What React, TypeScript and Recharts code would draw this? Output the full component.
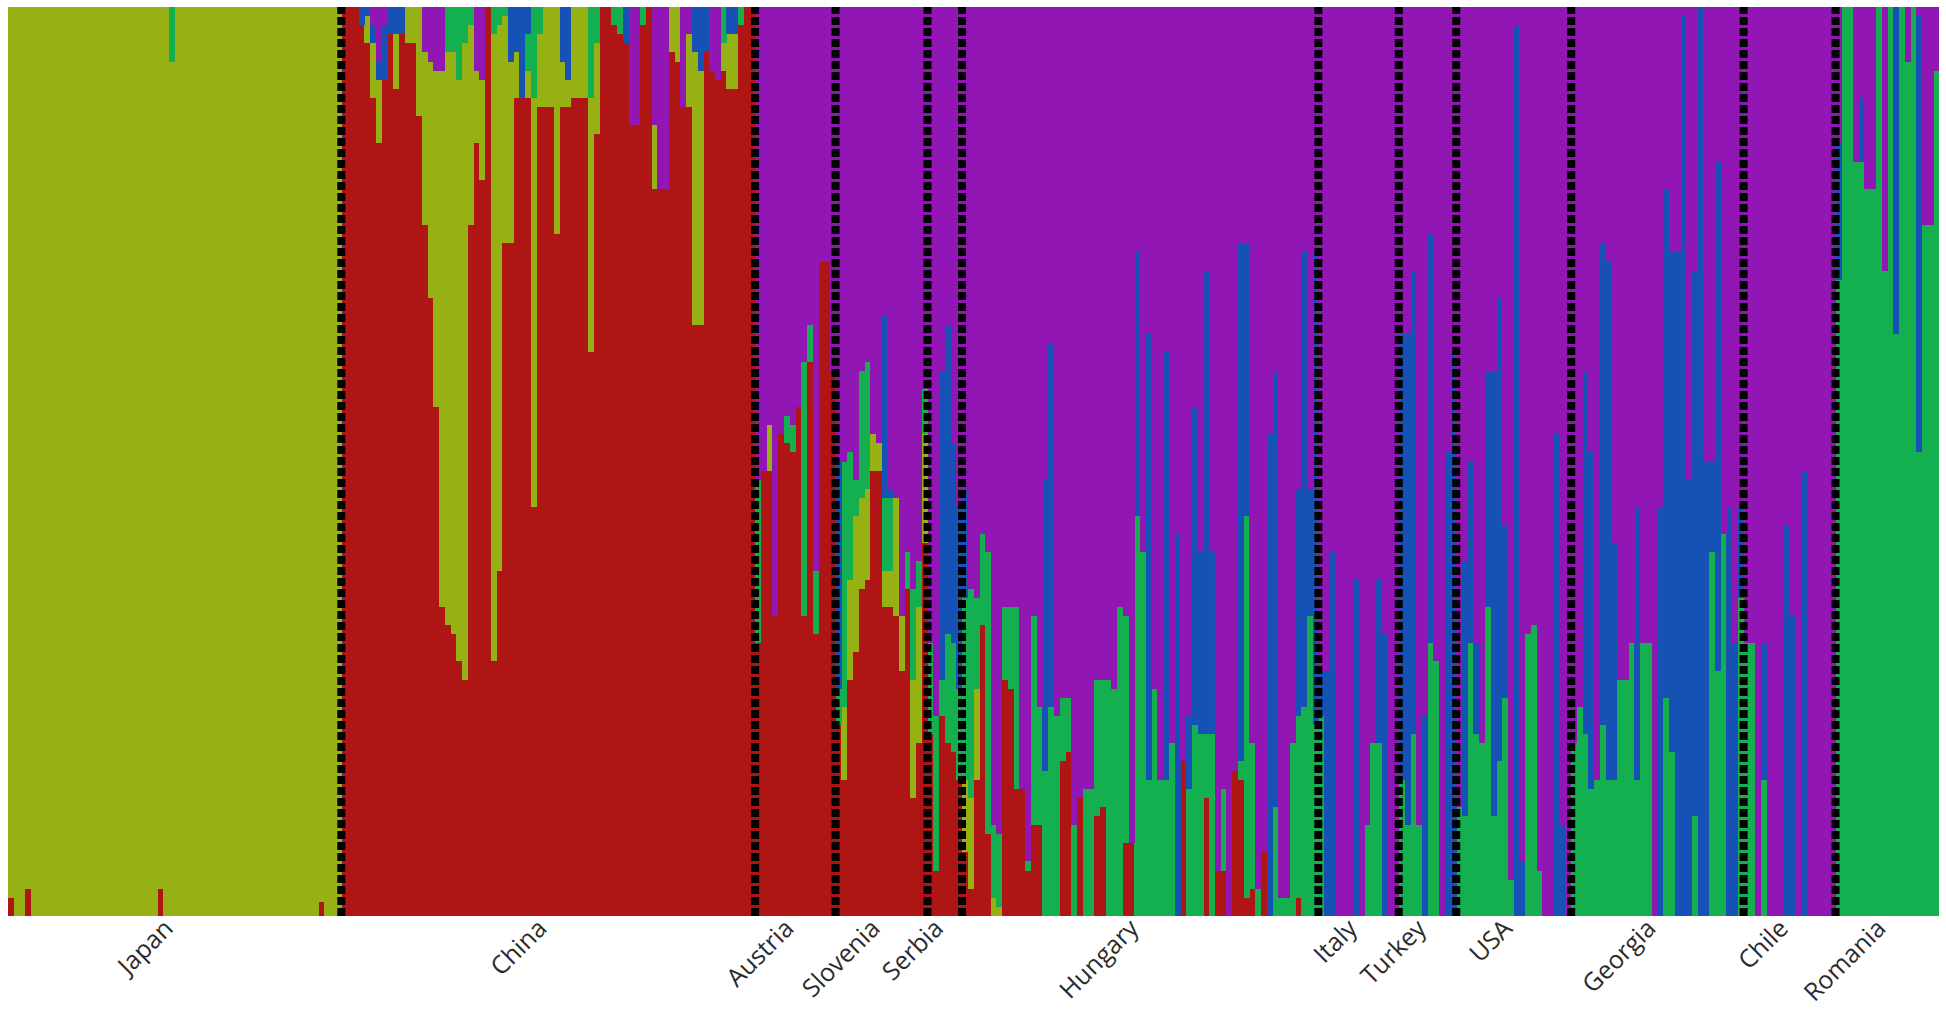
import React from 'react';
import { BarChart, Bar, XAxis, YAxis, ReferenceLine } from 'recharts';

// ancestry components, stacked bottom -> top
const components = ['red', 'yg', 'green', 'blue', 'purple'];
const colors: Record<string, string> = {
  red: '#b01515',
  yg: '#95b114',
  green: '#14b04f',
  blue: '#1652b5',
  purple: '#9116b3',
};

const populations = ['Japan', 'China', 'Austria', 'Slovenia', 'Serbia', 'Hungary', 'Italy', 'Turkey', 'USA', 'Georgia', 'Chile', 'Romania'];

// each individual: [red, yg, green, blue, purple] (%)
const japan = [
  [2,98,0,0,0],[0,100,0,0,0],[0,100,0,0,0],[3,97,0,0,0],[0,100,0,0,0],[0,100,0,0,0],[0,100,0,0,0],[0,100,0,0,0],[0,100,0,0,0],[0,100,0,0,0],
  [0,100,0,0,0],[0,100,0,0,0],[0,100,0,0,0],[0,100,0,0,0],[0,100,0,0,0],[0,100,0,0,0],[0,100,0,0,0],[0,100,0,0,0],[0,100,0,0,0],[0,100,0,0,0],
  [0,100,0,0,0],[0,100,0,0,0],[0,100,0,0,0],[0,100,0,0,0],[0,100,0,0,0],[0,100,0,0,0],[3,97,0,0,0],[0,100,0,0,0],[0,94,6,0,0],[0,100,0,0,0],
  [0,100,0,0,0],[0,100,0,0,0],[0,100,0,0,0],[0,100,0,0,0],[0,100,0,0,0],[0,100,0,0,0],[0,100,0,0,0],[0,100,0,0,0],[0,100,0,0,0],[0,100,0,0,0],
  [0,100,0,0,0],[0,100,0,0,0],[0,100,0,0,0],[0,100,0,0,0],[0,100,0,0,0],[0,100,0,0,0],[0,100,0,0,0],[0,100,0,0,0],[0,100,0,0,0],[0,100,0,0,0],
  [0,100,0,0,0],[0,100,0,0,0],[0,100,0,0,0],[0,100,0,0,0],[1.5,98.5,0,0,0],[0,100,0,0,0],[0,100,0,0,0],[0,100,0,0,0],
];

const china = [
  [100,0,0,0,0],[100,0,0,0,0],[100,0,0,0,0],[98,0,0,2,0],[96,3,0,1,0],[90,6,0,2,2],[85,7,0,2,6],[92,0,0,6,2],[97,0,0,3,0],[91,6,0,3,0],
  [97,0,0,3,0],[96,4,0,0,0],[96,4,0,0,0],[88,12,0,0,0],[76,19,0,0,5],[68,26,0,0,6],[56,37,0,0,7],[34,59,0,0,7],[32,63,5,0,0],[31,64,5,0,0],
  [28,64,8,0,0],[26,70,4,0,0],[76,22,2,0,0],[85,8,0,0,7],[81,11,0,0,8],[100,0,0,0,0],[28,69,3,0,0],[38,60,2,0,0],[74,25,1,0,0],[74,20,0,6,0],
  [90,5,0,5,0],[90,0,0,10,0],[90,3,4,3,0],[45,45,10,0,0],[89,8,3,0,0],[89,11,0,0,0],[89,11,0,0,0],[75,25,0,0,0],[89,5,0,6,0],[89,3,0,8,0],
  [90,10,0,0,0],[90,10,0,0,0],[90,10,0,0,0],[62,28,10,0,0],[86,10,4,0,0],[100,0,0,0,0],[100,0,0,0,0],[98,0,2,0,0],[97,0,3,0,0],[96,0,0,4,0],
  [87,0,0,0,13],[87,0,0,0,13],[98,0,2,0,0],[100,0,0,0,0],[80,7,0,0,13],[80,0,0,0,20],[80,0,0,0,20],[95,5,0,0,0],[94,6,0,0,0],[89,0,0,0,11],
  [89,8,0,0,3],[65,30,0,5,0],[65,28,0,7,0],[95,0,0,5,0],[93,0,0,0,7],[92,0,0,0,8],[93,3,4,0,0],[91,6,0,3,0],[91,6,0,3,0],[98,0,2,0,0],
  [100,0,0,0,0],[100,0,0,0,0],
];

const austria = [
  [30,0,18,0,52],[49,0,0,0,51],[49,5,0,0,46],[33,0,0,0,67],[53,0,0,0,47],[52,0,3,0,45],[51,0,3,0,46],
  [56,0,0,0,44],[33,0,28,0,39],[61,0,4,0,35],[31,0,7,0,62],[72,0,0,0,28],[72,0,0,0,28],[60,0,0,0,40],
];

const slovenia = [
  [21,0,4,25,50],[15,8,27,0,50],[26,11,14,0,49],[29,15,4,0,52],[36,10,14,0,40],[37,10,14,0,39],[49,4,0,0,47],[49,3,0,0,48],
  [34,4,8,20,34],[34,4,8,1,53],[33,13,0,0,54],[27,6,0,0,67],[36,0,4,0,60],[13,13,10,0,64],[19,15,5,0,61],[41,12,5,0,42],
];

const serbia = [
  [20,0,10,0,70],[5,0,17,0,78],[22,0,4,34,40],[19,0,12,34,35],[18,0,12,22,48],[15,0,10,20,55],
];

const hungary = [
  [7,8,20,12,53],[3,10,23,0,64],[15,10,10,0,65],[32,0,10,0,58],[9,0,31,0,60],[0,2,8,0,90],[0,1,8,0,91],[26,0,8,0,66],[25,0,9,0,66],[14,0,20,0,66],
  [14,0,0,0,86],[5,0,1,0,94],[10,0,23,0,67],[10,0,13,0,77],[0,0,16,32,52],[0,0,23,40,37],[0,0,22,0,78],[17,0,7,0,76],[18,0,6,0,76],[0,0,10,0,90],
  [13,0,0,0,87],[0,0,14,0,86],[0,0,14,0,86],[11,0,15,0,74],[12,0,14,0,74],[0,0,26,0,74],[0,0,25,0,75],[0,0,34,0,66],[8,0,25,0,67],[8,0,0,0,92],
  [0,0,44,29,27],[0,0,40,0,60],[0,0,15,49,36],[0,0,25,0,75],[0,0,15,0,85],[0,0,15,47,38],[0,0,19,0,81],[0,0,0,42,58],[17,0,0,0,83],[0,0,14,8,78],
  [0,0,21,35,44],[0,0,20,20,60],[13,0,7,51,29],[0,0,20,20,60],[5,0,0,0,95],[5,0,9,0,86],[0,0,0,0,100],[16,0,0,0,84],[15,0,2,57,26],[2,0,42,30,26],
  [3,0,16,0,81],[0,0,3,0,97],[7,0,0,0,93],[0,0,0,53,47],[0,0,12,48,40],[0,0,2,0,98],[0,0,2,0,98],[0,0,19,0,81],[2,0,20,25,53],[0,0,23,50,27],
  [0,0,33,14,53],[0,0,21,52,27],
];

const italy = [
  [0,0,22,5,73],[0,0,0,27,73],[0,0,0,40,60],[0,0,0,0,100],[0,0,0,0,100],[0,0,0,0,100],[0,0,0,37,63],
  [0,0,0,0,100],[0,0,10,0,90],[0,0,19,0,81],[0,0,19,18,63],[0,0,0,31,69],[0,0,0,0,100],[0,0,0,0,100],
];

const turkey = [
  [0,0,15,49,36],[0,0,10,54,36],[0,0,20,51,29],[0,0,10,0,90],[0,0,0,22,78],
  [0,0,30,45,25],[0,0,28,0,72],[0,0,0,0,100],[0,0,0,51,49],[0,0,0,62,38],
];

const usa = [
  [0,0,12,0,88],[0,0,11,28,61],[0,0,30,20,50],[0,0,20,10,70],[0,0,19,0,81],[0,0,34,26,40],[0,0,11,49,40],[0,0,17,51,32],[0,0,24,19,57],[0,0,4,0,96],
  [0,0,0,98,2],[0,0,0,6,94],[0,0,31,0,69],[0,0,32,0,68],[0,0,5,0,95],[0,0,0,0,100],[0,0,0,0,100],[0,0,0,53,47],[0,0,0,10,90],[0,0,0,0,100],
];

const georgia = [
  [0,0,19,0,81],[0,0,23,0,77],[0,0,20,40,40],[0,0,14,37,49],[0,0,15,0,85],[0,0,21,53,26],[0,0,15,57,28],[0,0,15,26,59],[0,0,26,0,74],[0,0,26,0,74],
  [0,0,30,0,70],[0,0,15,30,55],[0,0,30,0,70],[0,0,30,0,70],[0,0,0,0,100],[0,0,0,45,55],[0,0,24,56,20],[0,0,18,55,27],[0,0,0,73,27],[0,0,0,99,1],
  [0,0,0,48,52],[0,0,11,60,29],[0,0,0,100,0],[0,0,0,50,50],[0,0,40,10,50],[0,0,27,56,17],[0,0,42,0,58],[0,0,0,45,55],[0,0,0,30,70],[0,0,35,10,55],
];

const chile = [
  [0,0,30,0,70],[0,0,30,0,70],[0,0,0,0,100],[0,0,15,15,70],[0,0,0,0,100],[0,0,0,0,100],[0,0,0,0,100],[0,0,0,43,57],
  [0,0,0,33,67],[0,0,0,0,100],[0,0,0,49,51],[0,0,0,0,100],[0,0,0,0,100],[0,0,0,0,100],[0,0,0,0,100],[0,0,0,0,100],
];

const romania = [
  [0,0,70,15,15],[0,0,100,0,0],[0,0,100,0,0],[0,0,83,0,17],[0,0,83,7,10],[0,0,80,0,20],[0,0,80,0,20],[0,0,100,0,0],[0,0,71,0,29],
  [0,0,100,0,0],[0,0,64,36,0],[0,0,100,0,0],[0,0,94,0,6],[0,0,100,0,0],[0,0,51,48,1],[0,0,76,0,24],[0,0,76,0,24],[0,0,93,0,7],
];

const groups = [japan, china, austria, slovenia, serbia, hungary, italy, turkey, usa, georgia, chile, romania];

const data: any[] = [];
const firstIds: number[] = [];
const labelIds: number[] = [];
const labelEven: boolean[] = [];
groups.forEach((rows) => {
  firstIds.push(data.length);
  labelIds.push(data.length + Math.floor(rows.length / 2));
  labelEven.push(rows.length % 2 === 0);
  rows.forEach((r) => {
    const row: any = { id: data.length };
    components.forEach((c, i) => { row[c] = r[i]; });
    data.push(row);
  });
});

const Tick = (props: any) => {
  const { x, y, payload } = props;
  const idx = labelIds.indexOf(payload.value);
  if (idx < 0) return null;
  const off = labelEven[idx] && payload.offset ? payload.offset : 0;
  const ax = x - off;
  const ay = y + 12;
  return (
    <text
      x={ax}
      y={ay}
      transform={`rotate(-45 ${ax} ${ay})`}
      textAnchor="end"
      fontSize={25}
      fontFamily="'Open Sans', 'DejaVu Sans', sans-serif"
      fill="#2b2b2b"
    >
      {populations[idx]}
    </text>
  );
};

export default function App() {
  return (
    <div style={{ position: 'absolute', left: 0, top: 0, background: '#fff' }}>
      <BarChart
        width={1946}
        height={1013}
        data={data}
        margin={{ top: 7, right: 7, bottom: 7, left: 8 }}
        barCategoryGap={0}
        barGap={0}
        stackOffset="expand"
      >
        <XAxis
          dataKey="id"
          type="category"
          ticks={labelIds}
          interval={0}
          tick={<Tick />}
          axisLine={false}
          tickLine={false}
          tickSize={0}
          height={90}
        />
        <YAxis hide domain={[0, 1]} />
        {components.map((c) => (
          <Bar
            key={c}
            dataKey={c}
            stackId="q"
            fill={colors[c]}
            isAnimationActive={false}
            shapeRendering="crispEdges"
          />
        ))}
        {firstIds.slice(1).map((id) => (
          <ReferenceLine
            key={id}
            x={id}
            position="start"
            stroke="#000"
            strokeWidth={8}
            strokeDasharray="8 3"
            ifOverflow="visible"
          />
        ))}
      </BarChart>
    </div>
  );
}
